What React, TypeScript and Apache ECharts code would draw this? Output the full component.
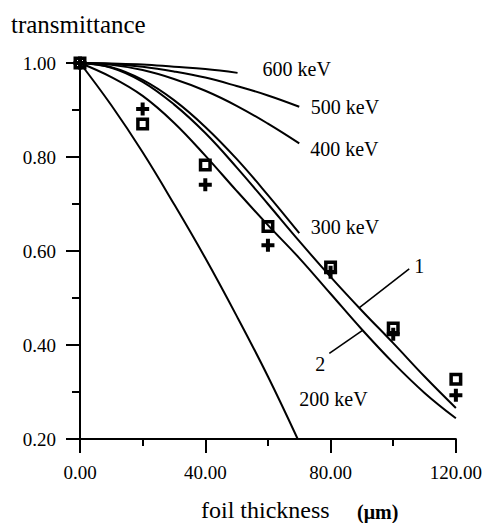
import { useEffect, useRef } from 'react';
import * as echarts from 'echarts';

// Transmittance curves (foil thickness in µm -> transmittance)
const x600 = [0, 10, 20, 30, 40, 50.3];
const t600 = [1.0, 0.999, 0.997, 0.992, 0.987, 0.979];

const xMid = [0, 10, 20, 30, 40, 50, 60, 70];
const t500 = [1.0, 0.998, 0.992, 0.982, 0.969, 0.951, 0.931, 0.907];
const t400 = [1.0, 0.996, 0.985, 0.966, 0.941, 0.909, 0.871, 0.829];
const t300 = [1.0, 0.991, 0.964, 0.921, 0.864, 0.796, 0.719, 0.638];

const x200 = [0, 10, 20, 30, 40, 50, 60, 69.5];
const t200 = [1.0, 0.91, 0.81, 0.7, 0.585, 0.462, 0.333, 0.2];

const xLong = [0, 10, 20, 30, 40, 50, 60, 70, 80, 90, 100, 110, 120];
const tCurve1 = [1.0, 0.99, 0.96, 0.912, 0.851, 0.778, 0.7, 0.621, 0.545, 0.473, 0.404, 0.333, 0.266];
const tCurve2 = [1.0, 0.97, 0.93, 0.873, 0.803, 0.728, 0.655, 0.585, 0.509, 0.433, 0.362, 0.298, 0.244];

// Measured points
const sampleX = [0, 20, 40, 60, 80, 100, 120];
const squareT = [1.0, 0.87, 0.783, 0.652, 0.566, 0.436, 0.327];
const plusT = [1.0, 0.902, 0.741, 0.612, 0.555, 0.423, 0.293];

// Curve labels, anchored in data coordinates (left edge, vertical middle)
const energyLabels = ['600 keV', '500 keV', '400 keV', '300 keV', '200 keV'];
const energyLabelX = [58.3, 73.7, 73.5, 73.7, 70.0];
const energyLabelT = [0.987, 0.906, 0.817, 0.651, 0.286];

const curveTags = ['1', '2'];
const curveTagX = [106.7, 75.1];
const curveTagT = [0.568, 0.359];

// Leader lines from the tags to curves 1 and 2
const leader1X = [105.1, 89.1];
const leader1T = [0.562, 0.479];
const leader2X = [79.6, 90.2];
const leader2T = [0.382, 0.431];

const xTicks = { min: 0, max: 120, interval: 40 };
const yTicks = { min: 0.2, max: 1.0, interval: 0.2 };

const FONT = 'Liberation Serif';
const PLUS = 'path://M4.5,0h4v4.5h4.5v4h-4.5v4.5h-4v-4.5h-4.5v-4h4.5z';

const pairs = (xs: number[], ys: number[]) => xs.map((x, i) => [x, ys[i]]);

const curve = (name: string, xs: number[], ys: number[], width = 2) => ({
  name,
  type: 'line',
  data: pairs(xs, ys),
  showSymbol: false,
  smooth: 0.4,
  lineStyle: { color: '#000', width, opacity: 1 },
  z: 2,
});

export default function App() {
  const ref = useRef<HTMLDivElement>(null);

  useEffect(() => {
    const chart = echarts.init(ref.current!, undefined, { renderer: 'svg' });

    chart.setOption({
      animation: false,
      backgroundColor: '#fff',
      grid: { left: 80, right: 28, top: 63, bottom: 84 },
      xAxis: {
        type: 'value',
        ...xTicks,
        axisLine: { show: true, onZero: false, lineStyle: { color: '#000', width: 2 } },
        axisTick: { show: true, length: 14, lineStyle: { color: '#000', width: 2 } },
        minorTick: { show: true, splitNumber: 2, length: 7, lineStyle: { color: '#000', width: 2 } },
        splitLine: { show: false },
        axisLabel: {
          color: '#000',
          fontFamily: FONT,
          fontSize: 19,
          margin: 24,
          formatter: (v: number) => v.toFixed(2),
        },
      },
      yAxis: {
        type: 'value',
        ...yTicks,
        axisLine: { show: true, onZero: false, lineStyle: { color: '#000', width: 2 } },
        axisTick: { show: true, length: 14, lineStyle: { color: '#000', width: 2 } },
        minorTick: { show: true, splitNumber: 2, length: 8, lineStyle: { color: '#000', width: 2 } },
        splitLine: { show: false },
        axisLabel: {
          color: '#000',
          fontFamily: FONT,
          fontSize: 19,
          margin: 24,
          formatter: (v: number) => v.toFixed(2),
        },
      },
      series: [
        curve('600 keV', x600, t600),
        curve('500 keV', xMid, t500),
        curve('400 keV', xMid, t400),
        curve('300 keV', xMid, t300),
        curve('200 keV', x200, t200),
        curve('1', xLong, tCurve1),
        curve('2', xLong, tCurve2),
        curve('leader 1', leader1X, leader1T, 1.6),
        curve('leader 2', leader2X, leader2T, 1.6),
        {
          name: 'squares',
          type: 'scatter',
          data: pairs(sampleX, squareT),
          symbol: 'rect',
          symbolSize: 9.5,
          itemStyle: {
            color: 'rgba(0,0,0,0)',
            borderColor: '#000',
            borderWidth: 3.5,
            opacity: 1,
          },
          emphasis: { disabled: true },
          clip: false,
          z: 3,
        },
        {
          name: 'plus',
          type: 'scatter',
          data: pairs(sampleX, plusT),
          symbol: PLUS,
          symbolSize: 13,
          itemStyle: { color: '#000', opacity: 1 },
          emphasis: { disabled: true },
          clip: false,
          z: 4,
        },
      ],
    });

    const toPx = (x: number, y: number) =>
      chart.convertToPixel({ gridIndex: 0 }, [x, y]) as number[];

    const labelText = (text: string, x: number, y: number, size = 20) => {
      const [px, py] = toPx(x, y);
      return {
        type: 'text',
        x: px,
        y: py,
        style: {
          text,
          fill: '#000',
          font: `${size}px "${FONT}"`,
          align: 'left',
          verticalAlign: 'middle',
        },
        z: 10,
      };
    };

    chart.setOption({
      graphic: [
        ...energyLabels.map((s, i) => labelText(s, energyLabelX[i], energyLabelT[i])),
        ...curveTags.map((s, i) => labelText(s, curveTagX[i], curveTagT[i])),
        {
          type: 'text',
          x: 11,
          y: 24,
          style: {
            text: 'transmittance',
            fill: '#000',
            font: `25px "${FONT}"`,
            align: 'left',
            verticalAlign: 'middle',
          },
        },
        {
          type: 'text',
          x: 201,
          y: 510,
          style: {
            text: 'foil thickness',
            fill: '#000',
            font: `24px "${FONT}"`,
            align: 'left',
            verticalAlign: 'middle',
          },
        },
        {
          type: 'text',
          x: 357,
          y: 512,
          style: {
            text: '(μm)',
            fill: '#000',
            font: `bold 20px "${FONT}"`,
            align: 'left',
            verticalAlign: 'middle',
          },
        },
      ],
    });

    return () => chart.dispose();
  }, []);

  return (
    <div
      ref={ref}
      style={{ position: 'absolute', left: 0, top: 0, width: 485, height: 523, background: '#fff' }}
    />
  );
}
